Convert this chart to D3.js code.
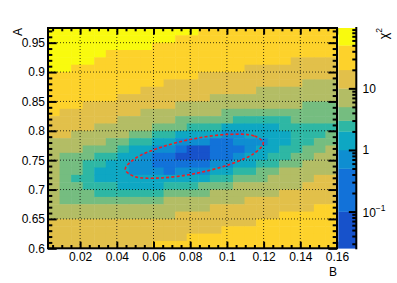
<!DOCTYPE html>
<html>
<head>
<meta charset="utf-8">
<script src="https://cdn.jsdelivr.net/npm/d3@7"></script>
<style>
  body { margin: 0; background: #ffffff; }
  svg { display: block; }
</style>
</head>
<body>
<div id="chart"></div>
<script>
// chi2 scan of the fit in the (B, A) plane
const bRange = [0.0025, 0.16];
const aRange = [0.6, 0.975];
const bTicks = [0.02, 0.04, 0.06, 0.08, 0.1, 0.12, 0.14, 0.16];
const aTicks = [0.6, 0.65, 0.7, 0.75, 0.8, 0.85, 0.9, 0.95];

// z axis: range, contour levels, colour and typical chi2 of each band
const zRange = [0.0253, 95.5];
const contourLevels = [0.1, 0.5, 1, 2, 3, 5, 10, 20, 50];
const bandColors = ['#1752cb', '#1272d9', '#0e8ed1', '#0ea7c3', '#2eb7a4',
                    '#75bd80', '#b3bd65', '#e2c04a', '#fdd22b', '#f9fa0e'];
const bandChi2 = [0.05, 0.22, 0.71, 1.41, 2.45, 3.87, 7.07, 14.1, 31.6, 69.1];

// band of every bin.
// first string = top row (A = 0.975), first digit = left column (B = 0.0025)
const bandRows = [
    '9999999999999888888888888',
    '9999999999988888888888888',
    '9999999998888888888888888',
    '9999988888888888888888888',
    '9999888888888888888887777',
    '9988888888888888877777777',
    '8888888888888777777777777',
    '8888888888777777777777666',
    '8888888877777777776666666',
    '8888887777777766666666666',
    '8887777777766666666666555',
    '8777777766666665555555555',
    '7777776666655555444445555',
    '7777666665554443333344444',
    '7766666554433332233334445',
    '6666655443322211222334455',
    '6665554332210011123344556',
    '6555443321100011233445566',
    '6554433221111122334455666',
    '6554333222122233445566666',
    '6544333333333344555666677',
    '6554443333444555666666777',
    '6555444444555566666677777',
    '6555555555666666677777777',
    '6666666666666677777777788',
    '6666666666677777777788888',
    '7777777777777777778888888',
    '7777777777777778888888888',
    '7777777777778888888888888',
    '7777777778888888888888888'
];

// red dashed contour around the minimum
const contourB = [0.1198, 0.1148, 0.1010, 0.0822, 0.0634, 0.0496,
                  0.0446, 0.0496, 0.0634, 0.0822, 0.1010, 0.1148];
const contourA = [0.7794, 0.7913, 0.7939, 0.7866, 0.7713, 0.7521,
                  0.7342, 0.7223, 0.7197, 0.7270, 0.7423, 0.7615];

(function() {
    const font = '"Liberation Sans", Arial, Helvetica, sans-serif';
    const width = 397, height = 283;
    const frame = {left: 48, right: 337, top: 28, bottom: 248.3};
    const bar = {left: 338.3, right: 356.3};

    let svg = d3.select('#chart').append('svg')
        .attr('width', width)
        .attr('height', height)
        .attr('font-family', font);

    svg.append('rect').attr('width', width).attr('height', height).attr('fill', '#ffffff');

    let x = d3.scaleLinear().domain(bRange).range([frame.left, frame.right]),
        y = d3.scaleLinear().domain(aRange).range([frame.bottom, frame.top]),
        z = d3.scaleLog().domain(zRange).range([frame.bottom, frame.top]);

    let color = d3.scaleThreshold().domain(contourLevels).range(bandColors);

    // bins
    const nB = bandRows[0].length, nA = bandRows.length;
    const bw = (bRange[1] - bRange[0]) / nB, aw = (aRange[1] - aRange[0]) / nA;
    let cells = [];
    bandRows.forEach(function(row, r) {
        row.split('').forEach(function(ch, c) {
            const a1 = aRange[1] - r * aw;
            cells.push({b0: bRange[0] + c * bw, b1: bRange[0] + (c + 1) * bw,
                        a0: a1 - aw, a1: a1, chi2: bandChi2[+ch]});
        });
    });

    svg.append('g')
        .selectAll('rect')
        .data(cells)
        .enter().append('rect')
        .attr('x', (d) => x(d.b0))
        .attr('y', (d) => y(d.a1))
        .attr('width', (d) => x(d.b1) - x(d.b0) + 0.5)
        .attr('height', (d) => y(d.a0) - y(d.a1) + 0.5)
        .attr('fill', (d) => color(d.chi2));

    // grid
    let grid = svg.append('g')
        .attr('stroke', '#000000')
        .attr('stroke-width', 1)
        .attr('stroke-dasharray', '1,2')
        .attr('stroke-opacity', 0.75);
    grid.selectAll('line.gx')
        .data(bTicks.filter((d) => d < bRange[1]))
        .enter().append('line')
        .attr('x1', (d) => x(d)).attr('x2', (d) => x(d))
        .attr('y1', frame.top).attr('y2', frame.bottom);
    grid.selectAll('line.gy')
        .data(aTicks.filter((d) => d > aRange[0]))
        .enter().append('line')
        .attr('x1', frame.left).attr('x2', frame.right)
        .attr('y1', (d) => y(d)).attr('y2', (d) => y(d));

    // contour
    let pts = contourB.map((b, i) => [b, contourA[i]]);
    let line = d3.line()
        .x((d) => x(d[0]))
        .y((d) => y(d[1]))
        .curve(d3.curveCatmullRomClosed);
    svg.append('path').datum(pts)
        .attr('fill', 'none')
        .attr('stroke', '#ee1c24')
        .attr('stroke-width', 1.6)
        .attr('stroke-dasharray', '3,2.2')
        .attr('d', line);

    // axes
    const fmt = (d) => String(+d.toFixed(3));
    const bMinor = d3.range(1, 33).map((i) => +(i * 0.005).toFixed(3)).filter((d) => !bTicks.includes(d));
    const aMinor = d3.range(60, 98).map((i) => +(i * 0.01).toFixed(2)).filter((d) => !aTicks.includes(d));

    let style_axis = function(g, size) {
        g.attr('font-family', font).attr('font-size', size || 12);
        g.select('.domain').remove();
        g.selectAll('.tick line').attr('stroke', '#000000').attr('stroke-width', 2);
        g.selectAll('.tick text').attr('fill', '#000000');
    };

    svg.append('g')
        .attr('transform', 'translate(0,' + frame.bottom + ')')
        .call(d3.axisBottom(x).tickValues(bTicks).tickFormat(fmt)
            .tickSizeInner(-6.6).tickSizeOuter(0).tickPadding(4.2))
        .call(style_axis);
    svg.append('g')
        .attr('transform', 'translate(0,' + frame.bottom + ')')
        .call(d3.axisBottom(x).tickValues(bMinor).tickFormat('')
            .tickSizeInner(-3.3).tickSizeOuter(0))
        .call(style_axis);
    svg.append('g')
        .attr('transform', 'translate(0,' + frame.top + ')')
        .call(d3.axisTop(x).tickValues(bTicks).tickFormat('')
            .tickSizeInner(-6.6).tickSizeOuter(0))
        .call(style_axis);
    svg.append('g')
        .attr('transform', 'translate(0,' + frame.top + ')')
        .call(d3.axisTop(x).tickValues(bMinor).tickFormat('')
            .tickSizeInner(-3.3).tickSizeOuter(0))
        .call(style_axis);

    svg.append('g')
        .attr('transform', 'translate(' + frame.left + ',0)')
        .call(d3.axisLeft(y).tickValues(aTicks).tickFormat(fmt)
            .tickSizeInner(-8.7).tickSizeOuter(0).tickPadding(3))
        .call(style_axis);
    svg.append('g')
        .attr('transform', 'translate(' + frame.left + ',0)')
        .call(d3.axisLeft(y).tickValues(aMinor).tickFormat('')
            .tickSizeInner(-4.3).tickSizeOuter(0))
        .call(style_axis);
    svg.append('g')
        .attr('transform', 'translate(' + frame.right + ',0)')
        .call(d3.axisRight(y).tickValues(aTicks).tickFormat('')
            .tickSizeInner(-8.7).tickSizeOuter(0))
        .call(style_axis);
    svg.append('g')
        .attr('transform', 'translate(' + frame.right + ',0)')
        .call(d3.axisRight(y).tickValues(aMinor).tickFormat('')
            .tickSizeInner(-4.3).tickSizeOuter(0))
        .call(style_axis);

    svg.append('rect')
        .attr('x', frame.left).attr('y', frame.top)
        .attr('width', frame.right - frame.left)
        .attr('height', frame.bottom - frame.top)
        .attr('fill', 'none')
        .attr('stroke', '#000000')
        .attr('stroke-width', 2);

    // axis titles
    svg.append('text')
        .attr('x', frame.right).attr('y', 275.5)
        .attr('text-anchor', 'end')
        .attr('font-size', 12)
        .text('B');
    svg.append('text')
        .attr('transform', 'translate(21.7,' + frame.top + ') rotate(-90)')
        .attr('text-anchor', 'end')
        .attr('font-size', 12)
        .text('A');

    // colour bar
    let bands = bandColors.map((c, i) => ({
        lo: i === 0 ? zRange[0] : contourLevels[i - 1],
        hi: i === bandColors.length - 1 ? zRange[1] : contourLevels[i],
        color: c
    }));
    svg.append('g')
        .selectAll('rect')
        .data(bands)
        .enter().append('rect')
        .attr('x', bar.left)
        .attr('y', (d) => z(d.hi))
        .attr('width', bar.right - bar.left)
        .attr('height', (d) => z(d.lo) - z(d.hi) + 0.3)
        .attr('fill', (d) => d.color);

    const zMajor = [0.1, 1, 10];
    let zMinor = [];
    [0.01, 0.1, 1, 10].forEach(function(dec) {
        for (let k = 2; k <= 9; k++) {
            const v = +(k * dec).toPrecision(2);
            if (v >= zRange[0] && v <= zRange[1]) zMinor.push(v);
        }
    });

    svg.append('g')
        .attr('transform', 'translate(' + bar.right + ',0)')
        .call(d3.axisRight(z).tickValues(zMajor).tickFormat('')
            .tickSizeInner(-7.5).tickSizeOuter(0))
        .call(style_axis);
    svg.append('g')
        .attr('transform', 'translate(' + bar.right + ',0)')
        .call(d3.axisRight(z).tickValues(zMinor).tickFormat('')
            .tickSizeInner(-4).tickSizeOuter(0))
        .call(style_axis);
    svg.append('line')
        .attr('x1', bar.right).attr('x2', bar.right)
        .attr('y1', frame.top - 1).attr('y2', frame.bottom + 1)
        .attr('stroke', '#000000')
        .attr('stroke-width', 2);

    let zlabels = svg.append('g').attr('font-size', 12).attr('fill', '#000000');
    zlabels.append('text')
        .attr('x', 362.5).attr('y', z(10)).attr('dy', '0.36em')
        .text('10');
    zlabels.append('text')
        .attr('x', 362.5).attr('y', z(1)).attr('dy', '0.36em')
        .text('1');
    let tenth = zlabels.append('text')
        .attr('x', 362.5).attr('y', z(0.1)).attr('dy', '0.45em');
    tenth.append('tspan').text('10');
    tenth.append('tspan').attr('font-size', 8.5).attr('dy', '-0.65em').text('\u22121');

    let ztitle = svg.append('text')
        .attr('transform', 'translate(387.5,' + frame.top + ') rotate(-90)')
        .attr('text-anchor', 'end')
        .attr('font-size', 12.5);
    ztitle.append('tspan').text('\u03c7');
    ztitle.append('tspan').attr('font-size', 8.5).attr('dy', '-0.6em').text('2');
}());
</script>
</body>
</html>
